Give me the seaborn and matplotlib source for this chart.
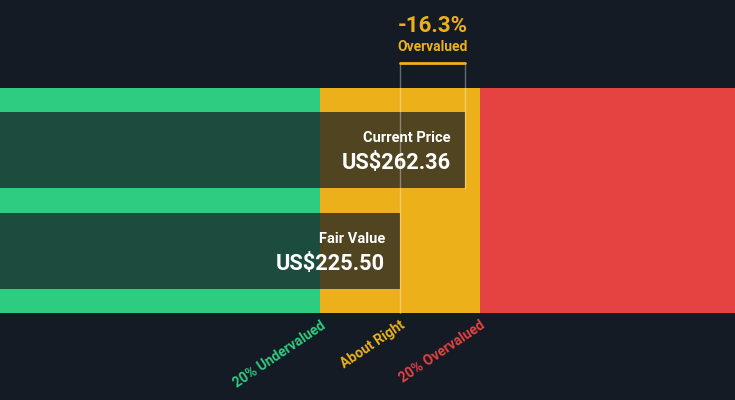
import numpy as np
import pandas as pd
import matplotlib
matplotlib.use("Agg")
import matplotlib.pyplot as plt
import seaborn as sns

# values
labels = ["Current Price", "Fair Value"]
prices = [262.36, 225.50]
price_text = ["US$262.36", "US$225.50"]
zone_names = ["20% Undervalued", "About Right", "20% Overvalued"]
zone_colors = ["#2ecc80", "#ecb11a", "#e54242"]
pct_text = "-16.3%"
verdict = "Overvalued"

bg = "#151b24"
gold = "#ecb11a"
fair = prices[1]
xmax = fair * 735 / 400

sns.set_theme(style="white")
plt.rcParams["font.family"] = ["Roboto", "DejaVu Sans"]

fig = plt.figure(figsize=(7.35, 4.0), dpi=100, facecolor=bg)
ax = fig.add_axes([0, 0, 1, 1])
ax.set_facecolor(bg)

# valuation zones behind the bars
edges = [0, fair * 0.8, fair * 1.2, xmax]
for i in range(3):
    ax.barh(0.5, edges[i + 1] - edges[i], left=edges[i], height=2.228,
            color=zone_colors[i], linewidth=0, zorder=0)

df = pd.DataFrame({"label": labels, "price": prices})
sns.barplot(data=df, x="price", y="label", orient="h", color=bg, alpha=0.72,
            saturation=1, width=0.75, linewidth=0, edgecolor="none", ax=ax, zorder=2)

ax.set_xlim(0, xmax)
ax.set_ylim(2.475, -1.485)
ax.axis("off")

# bracket between fair value and current price
ytop = (63 - 150) / 101
ax.plot([fair, fair], [ytop, 1.614], color="white", alpha=0.35, lw=1, zorder=3)
ax.plot([prices[0], prices[0]], [ytop, 0.375], color="white", alpha=0.35, lw=1, zorder=3)
ax.plot([fair, prices[0]], [ytop, ytop], color=gold, lw=2, zorder=4)

mid = (fair + prices[0]) / 2
ax.text(mid, (26 - 150) / 101, pct_text, color=gold, fontsize=16,
        fontweight="bold", ha="center", va="center")
ax.text(mid, (47 - 150) / 101, verdict, color=gold, fontsize=10,
        fontweight="bold", ha="center", va="center")

# bar labels
off = 15 / (735 / xmax)
for i, (lab, val, txt) in enumerate(zip(labels, prices, price_text)):
    ax.text(val - off, i - 0.12, lab, color="white", fontsize=10.5,
            fontweight="bold", ha="right", va="center", zorder=5)
    ax.text(val - off, i + 0.13, txt, color="white", fontsize=15.7,
            fontweight="bold", ha="right", va="center", zorder=5)

# zone labels
lab_x = [fair * 0.8, fair, fair * 1.2]
for name, x, c in zip(zone_names, lab_x, zone_colors):
    ax.text(x, (318 - 150) / 101, name, color=c, fontsize=10, fontweight="bold",
            rotation=34, rotation_mode="anchor", ha="right", va="top")

fig.savefig("out.png", dpi=100, facecolor=bg)
plt.close()
